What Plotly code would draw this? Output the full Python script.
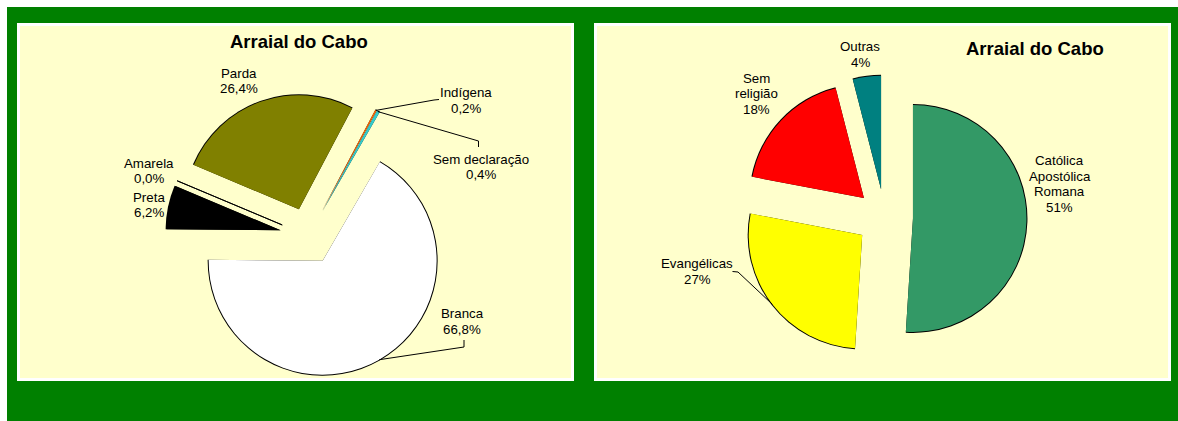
import math
import plotly.graph_objects as go

# ---------------- data ----------------
cor_labels = ["Branca", "Preta", "Amarela", "Parda", "Indígena", "Sem declaração"]
cor_values = [66.8, 6.2, 0.0, 26.4, 0.2, 0.4]
cor_colors = ["#FFFFFF", "#000000", "#FFFF99", "#808000", "#FF6600", "#33CCCC"]

rel_labels = ["Católica Apostólica Romana", "Evangélicas", "Sem religião", "Outras"]
rel_values = [51, 27, 18, 4]
rel_colors = ["#339966", "#FFFF00", "#FF0000", "#008080"]

chart_title = "Arraial do Cabo"

# ---------------- layout constants (page pixels) ----------------
W, H = 1171, 414          # figure size
OX, OY = 7, 7             # figure offset in page
FONT = "Arial, Liberation Sans, sans-serif"
LBL = 13.3
LINE = 15.5


def px(x):
    return (x - OX) / W


def py(y):
    return 1 - (y - OY) / H


def domain(cx, cy, r, pull):
    half = r * (1 + pull)
    return dict(x=[px(cx - half), px(cx + half)], y=[py(cy + half), py(cy - half)])


def edge_point(values, idx, rotation, cx, cy, r, pull):
    total = sum(values)
    before = sum(values[:idx])
    ang = math.radians(rotation + 360 * (before + values[idx] / 2) / total)
    d = r * (1 + pull)
    return cx + d * math.sin(ang), cy - d * math.cos(ang)


PULL = 0.25
RIM = 1.0   # width of the black outline drawn along the arcs
L_CX, L_CY, L_R, L_ROT = 308.5, 236, 114, 30
R_CX, R_CY, R_R, R_ROT = 884.6, 217.5, 113.5, 0

fig = go.Figure()


def add_pie(labels, values, colors, rot, cx, cy, r):
    n = len(values)
    # black rim layer: same slices, radius + RIM, same explode offset
    back_pull = PULL * r / (r + RIM)
    fig.add_trace(go.Pie(
        labels=labels, values=values, sort=False, direction="clockwise",
        rotation=rot, pull=[back_pull] * n, textinfo="none", hoverinfo="skip",
        showlegend=False,
        marker=dict(colors=["#000000"] * n, line=dict(width=0)),
        domain=domain(cx, cy, r + RIM, back_pull),
    ))
    # zero-value slices are drawn as a single radial line
    widths = [1 if v == 0 else 0 for v in values]
    fig.add_trace(go.Pie(
        labels=labels, values=values, sort=False, direction="clockwise",
        rotation=rot, pull=[PULL] * n, textinfo="none",
        hoverinfo="label+percent", showlegend=False,
        marker=dict(colors=colors, line=dict(color="#000000", width=widths)),
        domain=domain(cx, cy, r, PULL),
    ))


add_pie(cor_labels, cor_values, cor_colors, L_ROT, L_CX, L_CY, L_R)
add_pie(rel_labels, rel_values, rel_colors, R_ROT, R_CX, R_CY, R_R)

shapes = []
for x0, x1 in [(18.5, 572.5), (595.5, 1169.5)]:
    shapes.append(dict(type="rect", xref="paper", yref="paper", layer="below",
                       x0=px(x0), x1=px(x1), y0=py(379.5), y1=py(24.5),
                       fillcolor="#FFFFCC", line=dict(color="#FFFFFF", width=3)))

annotations = []


def add_text(lines, cx, cy, size=LBL, bold=False):
    n = len(lines)
    for k, t in enumerate(lines):
        yy = cy + (k - (n - 1) / 2) * LINE
        annotations.append(dict(
            text=f"<b>{t}</b>" if bold else t, x=px(cx), y=py(yy), xref="paper", yref="paper",
            showarrow=False, xanchor="center", yanchor="middle",
            font=dict(family=FONT, size=size, color="#000000")))


wrap = {"Católica Apostólica Romana": ["Católica", "Apostólica", "Romana"],
        "Sem religião": ["Sem", "religião"]}

cor_pos = {"Branca": (462, 321.5), "Preta": (148.5, 205), "Amarela": (149, 171),
           "Parda": (239, 81), "Indígena": (466, 100.5), "Sem declaração": (481, 167)}
rel_pos = {"Católica Apostólica Romana": (1059.5, 184), "Evangélicas": (697, 271.5),
           "Sem religião": (756, 93.5), "Outras": (860, 54.5)}

for lab, v in zip(cor_labels, cor_values):
    pct = f"{v:.1f}".replace(".", ",") + "%"
    add_text(wrap.get(lab, [lab]) + [pct], *cor_pos[lab])
for lab, v in zip(rel_labels, rel_values):
    pct = f"{v:.0f}%"
    add_text(wrap.get(lab, [lab]) + [pct], *rel_pos[lab])

add_text([chart_title], 298.5, 41, size=18.5, bold=True)
add_text([chart_title], 1035, 48.5, size=18.5, bold=True)

# leader lines: from slice arc midpoint to elbow near label
leaders = [
    (cor_values, cor_labels.index("Indígena"), L_ROT, L_CX, L_CY, L_R, [(434, 100), (439, 99.5)]),
    (cor_values, cor_labels.index("Sem declaração"), L_ROT, L_CX, L_CY, L_R, [(478.5, 141), (478.5, 147)]),
    (cor_values, cor_labels.index("Branca"), L_ROT, L_CX, L_CY, L_R, [(464, 347), (464, 340)]),
    (rel_values, rel_labels.index("Evangélicas"), R_ROT, R_CX, R_CY, R_R, [(738, 272), (732.5, 271.5)]),
]
for vals, idx, rot, cx, cy, r, pts in leaders:
    ex, ey = edge_point(vals, idx, rot, cx, cy, r, PULL)
    path = f"M {px(ex)},{py(ey)}" + "".join(f" L {px(a)},{py(b)}" for a, b in pts)
    shapes.append(dict(type="path", xref="paper", yref="paper", path=path,
                       line=dict(color="#000000", width=1)))

fig.update_layout(
    width=W, height=H, autosize=False,
    margin=dict(l=0, r=0, t=0, b=0, pad=0),
    paper_bgcolor="#008000", plot_bgcolor="#008000",
    shapes=shapes, annotations=annotations, showlegend=False,
    font=dict(family=FONT),
)

fig.write_html("out.html",
               post_script="document.body.style.margin='7px 0 0 7px';document.body.style.overflow='hidden';")
